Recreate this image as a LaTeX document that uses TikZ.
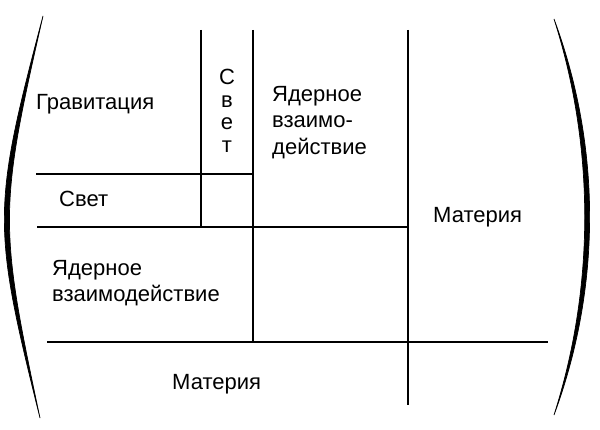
\documentclass[tikz,border=0pt]{standalone}
\usepackage{fontspec}
\setmainfont{Liberation Sans}
\begin{document}
\begin{tikzpicture}[x=1pt,y=-1pt,
  grid/.style={line width=1.7pt,black},
  paren/.style={fill=black,draw=black,line width=0.7pt},
  lbl/.style={inner sep=0pt,font=\fontsize{22}{26.5}\selectfont},
  vlbl/.style={inner sep=0pt,align=center,font=\fontsize{22}{22.5}\selectfont}]
\useasboundingbox[fill=white] (0,0) rectangle (600,430);
% parentheses
\path[paren] (43,16) .. controls (-8,209) and (-8,225) .. (40,418)
  .. controls (-1.2,225) and (-1.2,209) .. (43,16) -- cycle;
\path[paren] (554,19) .. controls (601.5,147) and (601.5,287) .. (554,415)
  .. controls (595,287) and (595,147) .. (554,19) -- cycle;
% grid lines
\draw[grid] (201,30) -- (201,227);
\draw[grid] (253,30) -- (253,342);
\draw[grid] (408,30) -- (408,405);
\draw[grid] (36,174) -- (253,174);
\draw[grid] (37,227) -- (408,227);
\draw[grid] (47,342) -- (548,342);
% labels
\node[lbl,anchor=base west] (grav) at (36,110) {Гравитация};
\node[vlbl,anchor=north] (svetv) at (227,69) {С\\в\\е\\т};
\node[lbl,anchor=north west,align=left] (yad1) at (272,86) {Ядерное\\взаимо-\\действие};
\node[lbl,anchor=base west] (svet) at (59,207) {Свет};
\node[lbl,anchor=north west,align=left] (yad2) at (52,260) {Ядерное\\взаимодействие};
\node[lbl,anchor=base west] (mat1) at (433,223) {Материя};
\node[lbl,anchor=base west] (mat2) at (172,390) {Материя};
\end{tikzpicture}
\end{document}
